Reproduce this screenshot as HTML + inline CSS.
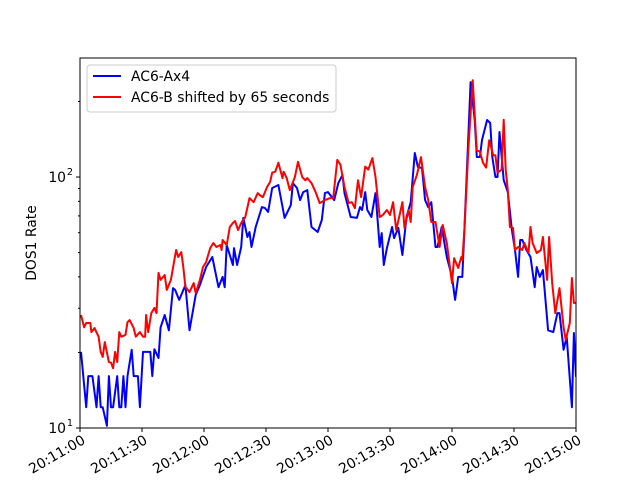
<!DOCTYPE html>
<html><head><meta charset="utf-8"><style>
body{margin:0;background:#fff}
svg{display:block;font-family:"DejaVu Sans","Liberation Sans",sans-serif}
</style></head><body>
<svg id="chart" width="640" height="480" xmlns="http://www.w3.org/2000/svg">
<rect width="640" height="480" fill="#fff"/>
<g id="plot"></g>
<g id="axes"></g>
<text x="36" y="243" transform="rotate(-90 36 243)" text-anchor="middle" font-size="13.9">DOS1 Rate</text>
<g>
<rect x="87" y="65" width="249" height="47" rx="3" fill="#fff" fill-opacity="0.8" stroke="#ccc"/>
<line x1="93" y1="76" x2="121" y2="76" stroke="#0000ff" stroke-width="2"/>
<text x="131" y="81" font-size="13.9">AC6-Ax4</text>
<line x1="93" y1="97" x2="121" y2="97" stroke="#ff0000" stroke-width="2"/>
<text x="131" y="102" font-size="13.9">AC6-B shifted by 65 seconds</text>
</g>
</svg>
<script>
const blueT=[0.5,3,4,6,8,9,10,11,13,14,15,16,18,19,20,21,22,23,25,26,28,29,30.5,34,35,36,38,39,41,43,45,46,48,51,53,56,58,61,64,67,69,70,71,74,74.5,76,78,79,81,82,83,85,88,89.5,91,93,96,99,102,103,105,106.5,108,110,112,115,117,118.5,120,123,125,127,128,131,134,135.5,136.5,138,139,141,143,144,145,146,147,148.5,151,152,154,156,158,160,162,163.5,165.5,167,168.5,170,172,173,175,177.5,180,181.5,183,185,186,189,191,192,193.5,194.5,197,198.5,199.5,201,202,203,205,207,209,210.5,212,213,214,216,218,220,221,222.5,224,226.5,229,231,232,234,235.5,238,239,240];
const blueV=[20.1,12.1,16.1,16.1,12.1,16.1,12.1,12.1,10.2,16.1,12.1,12.1,16.1,12.1,12.1,16.1,12.1,16.1,20.5,16.1,16.1,12.1,20.1,20.1,16.1,20.6,19,25.2,28.2,24.5,36.1,35.5,32.4,37.1,24.5,33.9,37.1,43.8,48,36.4,40,36.4,53.6,44.6,52.1,44.6,52.6,68.7,57.7,60.4,52.6,63.2,75.9,75.2,72.6,90.4,92.9,68.7,77.3,94.6,90.4,80.9,87.1,88.7,63.2,60.4,67.4,86.3,87.1,80.9,94.6,101.9,86.3,69.3,68.7,75.9,73.9,87.1,73.9,69.3,86.3,67.4,52.6,59.8,44.6,52.1,63.2,57.1,62.7,48.9,69.3,79.4,124.6,109.6,108.6,80.9,75.9,79.4,52.6,52.6,63.2,48,40,32.4,40,40,61.5,238.8,168.7,120.2,120.2,140.4,168.7,164.1,120.2,100,100,151.1,97.3,87.1,61.5,51.2,40,56.1,56.1,51.2,48,36.4,43.8,40,42.6,24.5,24.1,28.7,28.7,20.5,23.1,12.1,23.9,16];
const redT=[0.5,2,3,5,5.5,7,9,10,11,12,12.5,14,15,16,17,18,19,20,22,23,24,26,27,29,30.5,31.5,32,33,34.5,36,37,38,39,41,42,43,44,46.5,47.5,49,50,51,53,55,56,58,59.5,61,63,64.5,66,68,68.5,69,71,72.5,74,75,76.5,78,80,82,84,86,87,88.5,90.5,92,93,94.5,96,98,98.5,100,101.5,104,105.5,107.5,109,110,112,114,116,118.5,121,122.5,124.5,126,128,130,131.5,133,134.5,136,138,139.5,141.5,143,144,145,146.5,148.5,150,151.5,153,155,156,157,159,160,161,163,165,167,168.5,170,172,174,175.5,177.5,180,181,183,184.5,185,186,188,190,192,193.5,195,196.5,198,200,201,202,204,205,206,207,208,209.5,210.5,212,214,215,217,218,219,221,223,224,226,227,228.5,230,232,234,235,237,238,239,240];
const redV=[28.2,25.2,26.2,26.2,24.1,25,23.1,20.1,19.2,22,21,18.3,18.2,17.3,20.1,18.3,24.1,23.1,23.5,26.4,26.9,25,23.1,24.1,23.1,23.1,28.2,24.1,28.7,30.1,28.7,41.5,38.9,40.7,35.5,37.2,38.9,51.2,48,50.2,43.8,36.5,34.8,37.8,34.5,38.9,43.8,45.8,52.1,54.6,52.6,53.6,51.2,56.1,53.6,63.2,65.6,66.8,61.5,65.6,69.3,82.4,79.4,86.3,84.7,83.2,91.2,95.5,104,105,114,99,105,99,88.7,100,115,100,97,99,94.6,87.1,78.7,80.9,82.4,82.4,117,112,91.2,78.7,79.4,75.2,97,83.2,110,107,119,100,83.2,69.3,70.6,73.9,70.6,79.4,61.5,72.6,79.4,62.7,73.9,66.2,91.2,102,120,91.2,80.9,66.2,66.2,52.6,64.4,54.6,37.8,47.5,43.4,48,46.7,61.5,132,243,128,126,114,109,140,122,122,104,107,169,107,88.7,63.2,62.7,51.2,52.6,51.2,54.6,49.8,63.2,54.6,49.8,51.2,57.7,38.9,57.7,37.8,28.7,36.1,25.2,22.4,26.2,39.6,31.5,31.5];
const xTickSec=[0,30,60,90,120,150,180,210,240];
const xTickLabels=["20:11:00","20:11:30","20:12:00","20:12:30","20:13:00","20:13:30","20:14:00","20:14:30","20:15:00"];
const yMajor=[10,100];
const yMajorExp=["1","2"];
const yMinor=[20,30,40,50,60,70,80,90,200];

const L=80,R=576,T=58,B=428,YMIN=10,YMAX=298,TMAX=240;
const NS="http://www.w3.org/2000/svg";
function xs(t){return L+(t/TMAX)*(R-L);}
function ys(v){return B-(Math.log10(v)-Math.log10(YMIN))/(Math.log10(YMAX)-Math.log10(YMIN))*(B-T);}
function mk(tag,attrs,parent){const e=document.createElementNS(NS,tag);for(const k in attrs)e.setAttribute(k,attrs[k]);parent.appendChild(e);return e;}
const plot=document.getElementById('plot'),axes=document.getElementById('axes');
function line(T,V,color,name){
  let d='';for(let i=0;i<T.length;i++)d+=(i?'L':'M')+xs(T[i]).toFixed(1)+','+ys(V[i]).toFixed(1);
  const p=mk('path',{d:d,fill:'none',stroke:color,'stroke-width':2,'stroke-linejoin':'round'},plot);
  
  
}
const clip=mk('clipPath',{id:'c'},document.getElementById('chart'));
mk('rect',{x:L,y:T,width:R-L,height:B-T},clip);
plot.setAttribute('clip-path','url(#c)');
line(blueT,blueV,'#0000ff','series-ac6a');
line(redT,redV,'#ff0000','series-ac6b');
const frame=mk('rect',{x:L,y:T,width:R-L,height:B-T,fill:'none',stroke:'#000','stroke-width':1},axes);


xTickSec.forEach((s,i)=>{
  const x=xs(s);
  const tk=mk('line',{x1:x,y1:B,x2:x,y2:B+4,stroke:'#000'},axes);
  
  
  const tx=mk('text',{x:x+2,y:B+17,'font-size':13.9,'text-anchor':'end',transform:`rotate(-30 ${x} ${B+8})`},axes);
  tx.textContent=xTickLabels[i];
  
  
});
yMajor.forEach((v,i)=>{
  const y=ys(v);
  const tk=mk('line',{x1:L-4,y1:y,x2:L,y2:y,stroke:'#000'},axes);
  
  
  const tx=mk('text',{x:L-14,y:y+5,'font-size':13.9,'text-anchor':'end'},axes);
  tx.textContent='10';
  
  
  const sp=mk('text',{x:L-7,y:y-2,'font-size':9.7,'text-anchor':'end'},axes);
  sp.textContent=yMajorExp[i];
  
  
});
yMinor.forEach(v=>{
  const y=ys(v);
  const tk=mk('line',{x1:L-2,y1:y,x2:L,y2:y,stroke:'#000'},axes);
  
  
});
</script>
</body></html>
